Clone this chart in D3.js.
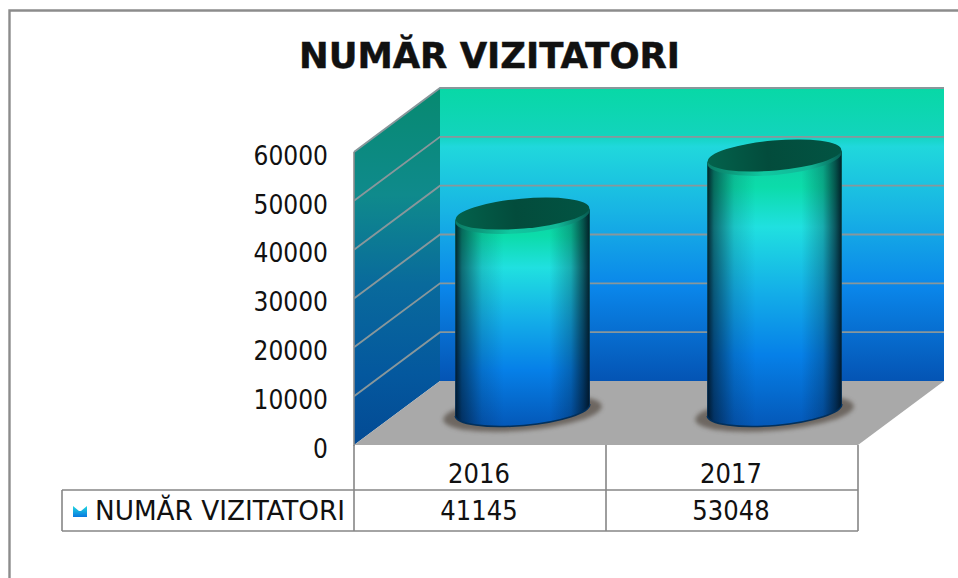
<!DOCTYPE html>
<html>
<head>
<meta charset="utf-8">
<script src="https://cdn.jsdelivr.net/npm/d3@7"></script>
<style>
html,body{margin:0;padding:0;background:#fff;overflow:hidden}
text{font-family:"DejaVu Sans Condensed","DejaVu Sans",sans-serif;fill:#111}
</style>
</head>
<body>
<svg id="chart" width="958" height="578"></svg>
<script>
var chartTitle = 'NUMĂR VIZITATORI';
var seriesName = 'NUMĂR VIZITATORI';
var categories = ['2016', '2017'];
var visitors = [41145, 53048];
var yTicks = [0, 10000, 20000, 30000, 40000, 50000, 60000];

var svg = d3.select('#chart');
var defs = svg.append('defs');

// front plane of the 3d box, the back wall is shifted by depth
var frontLeft = 354, frontRight = 858, frontBase = 445;
var depthX = 86, depthY = -64;

var x = d3.scaleBand().domain(categories).range([frontLeft, frontRight]);
var y = d3.scaleLinear().domain([0, 60000]).range([frontBase, frontBase - 293]);

function gradient(id, x1, y1, x2, y2, stops){
	var g = defs.append('linearGradient').attr('id', id)
		.attr('x1', x1).attr('y1', y1).attr('x2', x2).attr('y2', y2);
	stops.forEach(function(s){
		g.append('stop').attr('offset', s[0]).attr('stop-color', s[1])
			.attr('stop-opacity', s[2] === undefined ? 1 : s[2]);
	});
}

gradient('backWall', 0, 0, 0, 1, [[0, '#08d8a6'], [0.16, '#12d4bc'], [0.2, '#20d8dc'], [0.42, '#18b4e4'], [0.68, '#0a86ea'], [1, '#0454b4']]);
gradient('sideWall', 0, 0, 0, 1, [[0, '#078a70'], [0.3, '#0f8a8c'], [0.55, '#096a9c'], [0.8, '#04589e'], [1, '#034a94']]);
gradient('barFill', 0, 0, 0, 1, [[0, '#0fc8a2'], [0.16, '#0cdcaa'], [0.3, '#20e0e0'], [0.52, '#14b0e8'], [0.75, '#0680e8'], [1, '#0458b8']]);
gradient('barShade', 0, 0, 1, 0, [[0, '#00101c', 0.9], [0.05, '#00101c', 0.55], [0.2, '#00101c', 0.14], [0.36, '#00101c', 0], [0.7, '#00101c', 0], [0.86, '#00101c', 0.25], [0.95, '#00101c', 0.65], [1, '#00101c', 0.92]]);
gradient('capFill', 0, 0, 1, 0, [[0, '#03624c'], [0.45, '#034c3c'], [1, '#025443']]);
gradient('rimFill', 0, 0, 1, 0, [[0, '#0a7a64'], [0.4, '#10c8a0'], [0.75, '#12b898'], [1, '#065a50']]);
gradient('keyFill', 0, 0, 0, 1, [[0, '#20d8e0'], [1, '#0a78e0']]);

defs.append('filter').attr('id', 'soft').attr('x', '-20%').attr('y', '-40%').attr('width', '140%').attr('height', '180%')
	.append('feGaussianBlur').attr('stdDeviation', 2);

// frame, only top and left show in the crop
svg.append('path').attr('d', d3.line()([[9.5, 578], [9.5, 10.5], [958, 10.5]]))
	.attr('fill', 'none').attr('stroke', '#8c8c8c').attr('stroke-width', 2.4);

svg.append('text').attr('x', 489.5).attr('y', 68).attr('text-anchor', 'middle')
	.attr('font-size', 36).attr('font-weight', 700)
	.attr('textLength', 381).attr('lengthAdjust', 'spacingAndGlyphs')
	.style('font-family', '"DejaVu Sans",sans-serif')
	.style('stroke', '#111').style('stroke-width', 0.5)
	.text(chartTitle);

var backTop = y(60000) + depthY, backBase = frontBase + depthY;

// walls
svg.append('path')
	.attr('d', d3.line()([[frontLeft, y(0)], [frontLeft + depthX, backBase], [frontLeft + depthX, backTop], [frontLeft, y(60000)]]))
	.attr('fill', 'url(#sideWall)');
svg.append('rect').attr('x', frontLeft + depthX).attr('y', backTop)
	.attr('width', frontRight - frontLeft).attr('height', backBase - backTop)
	.attr('fill', 'url(#backWall)');
svg.append('path')
	.attr('d', d3.line()([[frontLeft, frontBase], [frontLeft + depthX, backBase], [frontRight + depthX, backBase], [frontRight, frontBase]]))
	.attr('fill', '#a9a9a9');

// gridlines on both walls
svg.append('g').selectAll('path').data(yTicks.slice(1)).enter().append('path')
	.attr('d', function(d){
		return d3.line()([[frontLeft, y(d)], [frontLeft + depthX, y(d) + depthY], [frontRight + depthX, y(d) + depthY]]);
	})
	.attr('fill', 'none').attr('stroke', '#88979b').attr('stroke-width', 1.9);

svg.append('path').attr('d', d3.line()([[frontLeft, frontBase + 1], [frontLeft, y(60000)]]))
	.attr('stroke', '#8c8c8c').attr('stroke-width', 1.6).attr('fill', 'none');

// y axis, labels only
var yAxis = svg.append('g').attr('transform', 'translate(328,4)')
	.call(d3.axisLeft(y).tickValues(yTicks).tickSize(0).tickPadding(0).tickFormat(d3.format('d')));
yAxis.select('.domain').remove();
yAxis.selectAll('text').attr('font-size', 26).style('font-family', null);

// cylinders
var rx = 67.5, ry = 15.5, tilt = -5;
var tiltX = rx * Math.cos(tilt * Math.PI / 180), tiltY = rx * Math.sin(tilt * Math.PI / 180);

var bars = svg.append('g').selectAll('g').data(categories).enter().append('g')
	.attr('transform', function(d){
		return 'translate(' + (x(d) + x.bandwidth() / 2 + depthX / 2 - 0.5) + ',0)';
	});

bars.each(function(d, i){
	var g = d3.select(this);
	var baseY = y(0) + depthY / 2 - 3;
	var topY = y(visitors[i]) + depthY / 2 + 4;
	var shape = 'M' + (-tiltX) + ',' + (baseY - tiltY)
		+ 'A' + rx + ',' + ry + ' ' + tilt + ' 0 0 ' + tiltX + ',' + (baseY + tiltY)
		+ 'L' + tiltX + ',' + (topY + tiltY)
		+ 'A' + rx + ',' + ry + ' ' + tilt + ' 0 0 ' + (-tiltX) + ',' + (topY - tiltY) + 'Z';

	g.append('ellipse').attr('cy', baseY + 3).attr('rx', rx + 12).attr('ry', ry + 2)
		.attr('transform', 'rotate(' + tilt + ' 0 ' + (baseY + 3) + ')')
		.attr('fill', '#5e5750').attr('opacity', 0.8).attr('filter', 'url(#soft)');
	g.append('path').attr('d', shape).attr('fill', 'url(#barFill)');
	g.append('path').attr('d', shape).attr('fill', 'url(#barShade)');

	// bottom edge is a thin dark line
	g.append('path')
		.attr('d', 'M' + (-tiltX) + ',' + (baseY - tiltY) + 'A' + rx + ',' + ry + ' ' + tilt + ' 0 0 ' + tiltX + ',' + (baseY + tiltY))
		.attr('fill', 'none').attr('stroke', '#02305c').attr('stroke-width', 1.5);

	g.append('ellipse').attr('cy', topY).attr('rx', rx).attr('ry', ry + 1.5)
		.attr('transform', 'rotate(' + tilt + ' 0 ' + topY + ')')
		.attr('fill', 'url(#rimFill)');
	g.append('ellipse').attr('cy', topY - 2.5).attr('rx', rx - 0.5).attr('ry', ry - 0.5)
		.attr('transform', 'rotate(' + tilt + ' 0 ' + (topY - 2.5) + ')')
		.attr('fill', 'url(#capFill)');
});

// data table under the plot
var tableLeft = 62, rowA = 490, rowB = 531, mid = x(categories[1]);
var gridLines = [
	[[frontLeft, frontBase], [frontLeft, rowB]],
	[[mid, frontBase], [mid, rowB]],
	[[frontRight, frontBase], [frontRight, rowB]],
	[[tableLeft, rowA], [frontRight, rowA]],
	[[tableLeft, rowB], [frontRight, rowB]],
	[[tableLeft, rowA], [tableLeft, rowB]]
];
svg.append('g').selectAll('path').data(gridLines).enter().append('path')
	.attr('d', function(d){ return d3.line()(d); })
	.attr('stroke', '#868686').attr('stroke-width', 1.6).attr('fill', 'none');

svg.append('g').selectAll('text').data(categories).enter().append('text')
	.attr('x', function(d){ return x(d) + x.bandwidth() / 2 - 1; })
	.attr('y', 483).attr('text-anchor', 'middle').attr('font-size', 27)
	.text(function(d){ return d; });

svg.append('g').selectAll('text').data(visitors).enter().append('text')
	.attr('x', function(d, i){ return x(categories[i]) + x.bandwidth() / 2 - 1; })
	.attr('y', 520).attr('text-anchor', 'middle').attr('font-size', 27)
	.text(function(d){ return d; });

svg.append('path').attr('d', 'M73,506L79,511L81,511L87,506L87,517L73,517Z').attr('fill', 'url(#keyFill)');
svg.append('text').attr('x', 95).attr('y', 520).attr('font-size', 27)
	.attr('textLength', 250).attr('lengthAdjust', 'spacingAndGlyphs').text(seriesName);
</script>
</body>
</html>
